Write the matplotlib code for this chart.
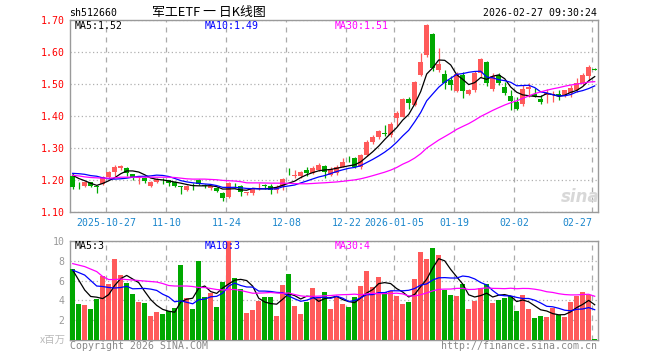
import numpy as np
import pandas as pd
import matplotlib
matplotlib.use('Agg')
import matplotlib.pyplot as plt

# ---------------- data ----------------
opens = [1.213, 1.186, 1.181, 1.193, 1.181, 1.187, 1.210, 1.224, 1.237, 1.239,
         1.218, 1.206, 1.207, 1.182, 1.195, 1.200, 1.199, 1.194, 1.180, 1.170,
         1.182, 1.200, 1.186, 1.174, 1.176, 1.158, 1.147, 1.185, 1.181, 1.160,
         1.158, 1.183, 1.183, 1.181, 1.168, 1.177, 1.219, 1.212, 1.212, 1.233,
         1.223, 1.233, 1.245, 1.215, 1.223, 1.241, 1.266, 1.268, 1.241, 1.278,
         1.320, 1.336, 1.347, 1.341, 1.395, 1.398, 1.453, 1.435, 1.529, 1.592,
         1.657, 1.545, 1.532, 1.513, 1.480, 1.528, 1.469, 1.482, 1.536, 1.571,
         1.485, 1.530, 1.491, 1.463, 1.446, 1.437, 1.484, 1.471, 1.455, 1.466,
         1.466, 1.471, 1.463, 1.473, 1.482, 1.503, 1.526, 1.548]
highs = [1.223, 1.194, 1.198, 1.195, 1.183, 1.212, 1.227, 1.247, 1.248, 1.241,
         1.220, 1.210, 1.209, 1.196, 1.206, 1.205, 1.201, 1.197, 1.182, 1.184,
         1.190, 1.202, 1.189, 1.182, 1.178, 1.162, 1.194, 1.190, 1.184, 1.164,
         1.176, 1.191, 1.189, 1.187, 1.186, 1.206, 1.237, 1.231, 1.228, 1.242,
         1.243, 1.254, 1.247, 1.241, 1.247, 1.270, 1.275, 1.273, 1.283, 1.325,
         1.341, 1.358, 1.372, 1.382, 1.417, 1.458, 1.459, 1.511, 1.597, 1.688,
         1.659, 1.615, 1.545, 1.526, 1.539, 1.537, 1.486, 1.541, 1.582, 1.574,
         1.534, 1.534, 1.507, 1.482, 1.460, 1.499, 1.505, 1.488, 1.466, 1.484,
         1.480, 1.483, 1.482, 1.497, 1.519, 1.534, 1.560, 1.550]
lows = [1.172, 1.171, 1.177, 1.177, 1.158, 1.184, 1.208, 1.213, 1.232, 1.214,
        1.200, 1.187, 1.190, 1.178, 1.192, 1.187, 1.181, 1.178, 1.156, 1.166,
        1.170, 1.186, 1.174, 1.170, 1.163, 1.136, 1.145, 1.174, 1.151, 1.154,
        1.153, 1.170, 1.172, 1.155, 1.158, 1.170, 1.216, 1.207, 1.208, 1.212,
        1.218, 1.228, 1.205, 1.212, 1.215, 1.240, 1.257, 1.238, 1.236, 1.275,
        1.313, 1.330, 1.338, 1.336, 1.369, 1.396, 1.424, 1.432, 1.526, 1.584,
        1.543, 1.539, 1.484, 1.482, 1.475, 1.458, 1.465, 1.476, 1.524, 1.495,
        1.480, 1.499, 1.467, 1.420, 1.418, 1.431, 1.460, 1.460, 1.438, 1.440,
        1.444, 1.452, 1.460, 1.460, 1.477, 1.498, 1.514, 1.544]
closes = [1.179, 1.183, 1.194, 1.182, 1.179, 1.209, 1.225, 1.241, 1.245, 1.223,
          1.209, 1.208, 1.198, 1.194, 1.203, 1.199, 1.192, 1.181, 1.177, 1.182,
          1.181, 1.189, 1.180, 1.180, 1.167, 1.143, 1.191, 1.183, 1.162, 1.162,
          1.173, 1.184, 1.182, 1.170, 1.178, 1.204, 1.218, 1.213, 1.226, 1.222,
          1.238, 1.246, 1.226, 1.234, 1.241, 1.257, 1.265, 1.242, 1.280, 1.320,
          1.336, 1.354, 1.345, 1.375, 1.411, 1.454, 1.442, 1.508, 1.571, 1.686,
          1.550, 1.565, 1.503, 1.499, 1.532, 1.478, 1.483, 1.534, 1.578, 1.504,
          1.527, 1.504, 1.474, 1.448, 1.422, 1.486, 1.491, 1.463, 1.443, 1.472,
          1.470, 1.463, 1.481, 1.487, 1.503, 1.529, 1.555, 1.546]
# volume in millions (x百万)
volumes = [7.16, 3.65, 3.55, 3.14, 4.15, 6.45, 5.65, 8.16, 6.55, 5.75,
           4.65, 3.85, 3.75, 2.44, 2.84, 2.64, 2.94, 3.24, 7.56, 4.25,
           3.14, 7.96, 4.35, 4.75, 3.34, 5.85, 10.0, 6.25, 5.15, 2.74,
           3.04, 3.95, 4.35, 4.35, 2.44, 5.55, 6.66, 3.44, 2.64, 3.85,
           5.25, 4.35, 4.85, 3.14, 4.45, 3.65, 3.34, 4.35, 5.45, 6.96,
           5.35, 6.35, 4.85, 4.95, 4.45, 3.65, 3.85, 6.15, 8.86, 8.16,
           9.26, 8.56, 5.05, 4.55, 4.45, 5.65, 3.14, 3.95, 5.25, 5.65,
           3.75, 4.05, 4.25, 4.45, 2.94, 4.55, 3.14, 2.24, 2.44, 2.34,
           3.24, 2.54, 2.34, 3.85, 4.45, 4.85, 4.55, 0.13]

# moving-average values at the left edge (history before the window),
# read from the lines in the picture
ma5_head = [1.215, 1.205, 1.198, 1.190]
ma10_head = [1.221, 1.220, 1.218, 1.214, 1.212, 1.207, 1.204, 1.203, 1.204]
ma30_head = [1.215, 1.213, 1.210, 1.208, 1.207, 1.206, 1.206, 1.207, 1.209, 1.209,
             1.209, 1.209, 1.209, 1.209, 1.209, 1.209, 1.209, 1.208, 1.206, 1.204,
             1.203, 1.203, 1.203, 1.202, 1.201, 1.199, 1.198, 1.197, 1.195]
vma5_head = [7.05, 6.05, 5.05, 4.40]
vma10_head = [7.05, 6.80, 6.55, 6.00, 5.45, 5.40, 5.30, 5.25, 5.30]
vma30_head = [7.70, 7.55, 7.40, 7.15, 6.90, 6.40, 6.10, 6.10, 6.15, 6.10,
              6.05, 6.00, 5.95, 5.90, 5.85, 5.70, 5.50, 5.45, 5.45, 5.45,
              5.40, 5.30, 5.30, 5.20, 5.10, 5.05, 5.10, 5.10, 5.00]

date_labels = ['2025-10-27', '11-10', '11-24', '12-08', '12-22',
               '2026-01-05', '01-19', '02-02', '02-27']
date_index = [6, 16, 26, 36, 46, 54, 64, 74, 87]
price_ticks = [1.10, 1.20, 1.30, 1.40, 1.50, 1.60, 1.70]
vol_ticks = [2, 4, 6, 8, 10]

title = '军工ETF 一 日K线图'
code = 'sh512660'
stamp = '2026-02-27 09:30:24'
ma_price_text = ['MA5:1.52', 'MA10:1.49', 'MA30:1.51']
ma_vol_text = ['MA5:3', 'MA10:3', 'MA30:4']

# ---------------- style ----------------
RED = '#ff5a5a'
GREEN = '#00a800'
MA_COLORS = ['#000000', '#0000ff', '#ff00ff']
MONO = 'DejaVu Sans Mono'
FS = 7.1
W, H = 660, 360

o = np.array(opens); h = np.array(highs); l = np.array(lows); c = np.array(closes)
v = np.array(volumes)
n = len(c)
up = c >= o
colors = np.where(up, RED, GREEN)
x = np.arange(n) + 0.4


def moving_avg(values, win, head):
    m = pd.Series(values).rolling(win).mean().to_numpy()
    m[:len(head)] = head
    return m


fig = plt.figure(figsize=(W / 100, H / 100), dpi=100)
fig.patch.set_facecolor('white')


def fx(px):
    return px / W


def fy(py):
    return 1 - py / H


L, R = 70.3, 597.7
ax = fig.add_axes([fx(L), fy(212.0), (R - L) / W, (212.0 - 20.4) / H])
axv = fig.add_axes([fx(L), fy(340.3), (R - L) / W, (340.3 - 240.7) / H])

for a in (ax, axv):
    a.set_xlim(0, (R - L) / 6.0)
    for s in a.spines.values():
        s.set_color('#9a9a9a')
        s.set_linewidth(1.0)
    a.set_xticks(date_index)
    a.tick_params(length=0)
    a.grid(axis='x', color='#aaaaaa', linestyle=(0, (4, 4)), linewidth=0.9)
    a.grid(axis='y', color='#b0b0b0', linestyle=(0, (1, 2)), linewidth=0.9)
    a.set_axisbelow(True)

# ---- candles ----
body_lo = np.minimum(o, c)
body_h = np.maximum(np.abs(c - o), 0.0025)
ax.vlines(x, l, h, colors=colors, linewidth=0.9, zorder=2)
ax.bar(x, body_h, bottom=body_lo, width=0.8, color=colors, linewidth=0, zorder=3)

for win, head, col in zip([5, 10, 30], [ma5_head, ma10_head, ma30_head], MA_COLORS):
    ax.plot(x, moving_avg(c, win, head), color=col, linewidth=0.9, zorder=4)

ax.set_ylim(1.10, 1.70)
ax.set_yticks(price_ticks)
ax.set_yticklabels(['%.2f' % t for t in price_ticks], color='#ff0000',
                   fontsize=FS, family=MONO)
ax.tick_params(axis='y', pad=4)
ax.set_xticklabels(date_labels, color='#1a86cc', fontsize=FS, family=MONO)
ax.tick_params(axis='x', pad=4)
ax.get_xticklabels()[-1].set_horizontalalignment('right')

# ---- volume ----
axv.bar(x, v, width=0.8, color=colors, linewidth=0, zorder=3)
for win, head, col in zip([5, 10, 30], [vma5_head, vma10_head, vma30_head], MA_COLORS):
    axv.plot(x, moving_avg(v, win, head), color=col, linewidth=0.9, zorder=4)
axv.set_ylim(0, 10)
axv.set_yticks(vol_ticks)
axv.set_yticklabels([str(t) for t in vol_ticks], color='#999999', fontsize=FS, family=MONO)
axv.tick_params(axis='y', pad=4)
axv.set_xticklabels([])

# ---- texts ----
fig.text(fx(69.3), fy(13.3), code, fontsize=FS, family=MONO, va='center', ha='left')
fig.text(fx(209), fy(12.7), title, fontsize=9.3, family=['Noto Sans CJK SC', 'DejaVu Sans'],
         va='center', ha='center')
fig.text(fx(597), fy(13.3), stamp, fontsize=FS, family=MONO, va='center', ha='right')

for txt, col, px in zip(ma_price_text, MA_COLORS, [74.5, 204.7, 335.0]):
    fig.text(fx(px), fy(26.0), txt, color=col, fontsize=FS, family=MONO, va='center', ha='left')
for txt, col, px in zip(ma_vol_text, MA_COLORS, [74.5, 204.7, 335.0]):
    fig.text(fx(px), fy(246.3), txt, color=col, fontsize=FS, family=MONO, va='center', ha='left')

fig.text(fx(65.5), fy(340.0), 'x百万', color='#bbbbbb', fontsize=7.5,
         family=['Noto Sans CJK SC', 'DejaVu Sans'], va='center', ha='right')
fig.text(fx(70.0), fy(345.7), 'Copyright 2026 SINA.COM', color='#888888', fontsize=FS,
         family=MONO, va='center', ha='left')
fig.text(fx(597.3), fy(345.7), 'http://finance.sina.com.cn', color='#888888', fontsize=FS,
         family=MONO, va='center', ha='right')
fig.text(fx(580), fy(197), 'sina', color='#d8d8d8', fontsize=12, fontstyle='italic',
         fontweight='bold', va='center', ha='center')

fig.savefig('out.png', dpi=100)
